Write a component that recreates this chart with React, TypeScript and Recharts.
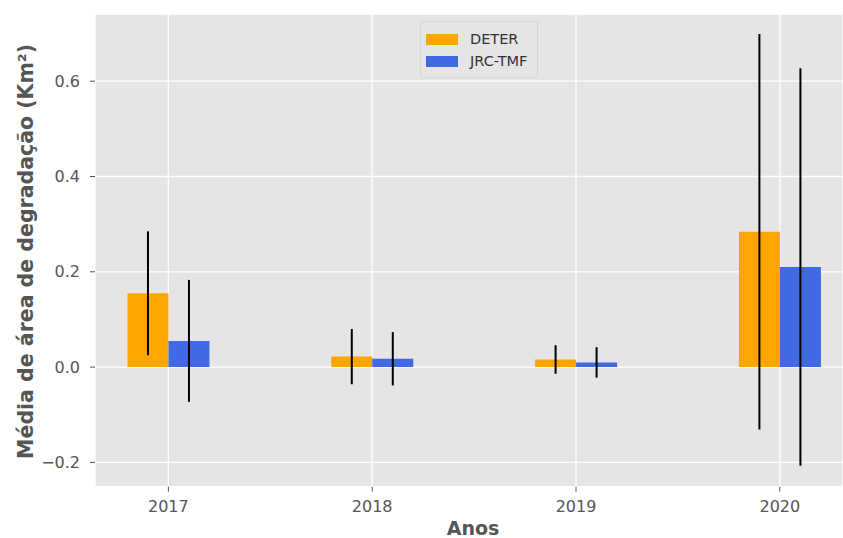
import React from 'react'
import { Bar, BarChart, CartesianGrid, ErrorBar, Legend, XAxis, YAxis } from 'recharts'

// mean degradation area per year, with standard deviation
const years = [2017, 2018, 2019, 2020]
const deterMean = [0.155, 0.022, 0.016, 0.284]
const deterErr = [0.13, 0.058, 0.03, 0.415]
const jrcMean = [0.055, 0.0175, 0.0098, 0.21]
const jrcErr = [0.128, 0.056, 0.032, 0.417]
const yTicks = [-0.2, 0, 0.2, 0.4, 0.6]

const seriesNames = ['DETER', 'JRC-TMF']
const seriesColors = ['#FFA500', '#4169E1']

const data = years.map((year, i) => ({
  year,
  deter: deterMean[i],
  deterErr: deterErr[i],
  jrc: jrcMean[i],
  jrcErr: jrcErr[i],
}))

const FONT = '"DejaVu Sans", sans-serif'

const formatY = (v: number) => v.toFixed(1).replace('-', '\u2212')

const YTitle = (props: any) => {
  const { viewBox } = props
  const x = viewBox.x + 33
  const y = viewBox.y + viewBox.height / 2 + 1
  return (
    <text x={x} y={y} transform={`rotate(-90, ${x}, ${y})`} textAnchor='middle'
      fill='#555' fontSize={20.5} fontWeight='bold' fontFamily={FONT}>
      Média de área de degradação (Km²)
    </text>
  )
}

const XTitle = (props: any) => {
  const { viewBox } = props
  return (
    <text x={viewBox.x + viewBox.width / 2 + 4} y={viewBox.y + 48.5} textAnchor='middle'
      fill='#555' fontSize={19} fontWeight='bold' fontFamily={FONT}>
      Anos
    </text>
  )
}

const LegendBox = () => (
  <div style={{
    background: '#E5E5E5', border: '1px solid #d6d6d6', borderRadius: 3,
    padding: '6px 10px 5px 5px', fontFamily: FONT, fontSize: 14.5, color: '#333',
  }}>
    {seriesNames.map((name, i) => (
      <div key={name} style={{ display: 'flex', alignItems: 'center', height: 22 }}>
        <span style={{ display: 'inline-block', width: 32, height: 11, background: seriesColors[i], marginRight: 12 }} />
        <span>{name}</span>
      </div>
    ))}
  </div>
)

const App = () => {
  return (
    <div style={{ position: 'absolute', left: 0, top: 0, background: '#fff' }}>
      <BarChart width={843} height={538} data={data} barGap={0}
        margin={{ top: 14, right: 0, bottom: 0, left: 0 }}>
        <CartesianGrid fill='#E5E5E5' stroke='#ffffff' strokeWidth={1.3} />
        <XAxis dataKey='year' type='number' domain={[2016.64, 2020.31]} ticks={years}
          allowDataOverflow height={51.3} axisLine={false} tickSize={5} tickMargin={9}
          tickLine={{ stroke: '#555' }}
          tick={{ fill: '#555', fontSize: 16, fontFamily: FONT }}
          label={<XTitle />} />
        <YAxis type='number' domain={[-0.251, 0.741]} ticks={yTicks} allowDataOverflow
          width={95} axisLine={false} tickSize={5} tickMargin={10}
          tickLine={{ stroke: '#555' }} tickFormatter={formatY}
          tick={{ fill: '#555', fontSize: 16, fontFamily: FONT }}
          label={<YTitle />} />
        <Legend verticalAlign='middle' align='center' layout='horizontal'
          wrapperStyle={{ left: 420, top: 21, width: 'auto' }} content={<LegendBox />} />
        <Bar dataKey='deter' name={seriesNames[0]} fill={seriesColors[0]} barSize={41} isAnimationActive={false}>
          <ErrorBar dataKey='deterErr' direction='y' width={0} stroke='#000' strokeWidth={2} isAnimationActive={false} />
        </Bar>
        <Bar dataKey='jrc' name={seriesNames[1]} fill={seriesColors[1]} barSize={41} isAnimationActive={false}>
          <ErrorBar dataKey='jrcErr' direction='y' width={0} stroke='#000' strokeWidth={2} isAnimationActive={false} />
        </Bar>
      </BarChart>
    </div>
  )
}

export default App
